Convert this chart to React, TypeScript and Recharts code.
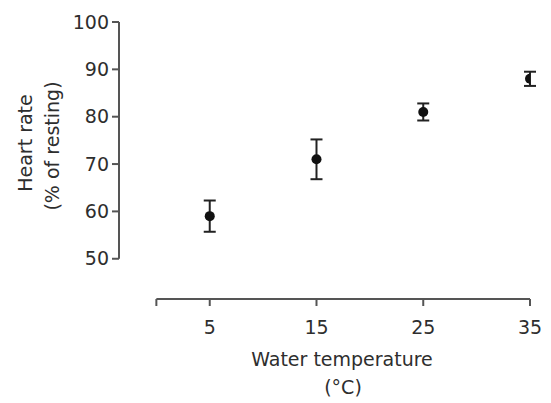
import React from 'react';
import { ScatterChart, Scatter, XAxis, YAxis, ErrorBar, ReferenceLine, Label } from 'recharts';

const temperatures = [5, 15, 25, 35];
const heartRate = [59, 71, 81, 88];
const heartRateErr = [3.3, 4.2, 1.8, 1.5];
const xTicks = [0, 5, 15, 25, 35];
const yTicks = [50, 60, 70, 80, 90, 100];
const xDomain: [number, number] = [-3.5, 35];
const yDomain: [number, number] = [41.5, 100];

const points = temperatures.map((t, i) => ({ x: t, y: heartRate[i], err: heartRateErr[i] }));

const FONT = 'DejaVu Sans';
const TEXT = '#2e2e2e';
const AXIS = '#555';

const tickStyle = { fontSize: 19, fill: TEXT, fontFamily: FONT };

const YTitle = () => (
  <g fontFamily={FONT} fontSize={19} fill={TEXT}>
    <text x={25} y={143} transform="rotate(-90 25 143)" textAnchor="middle" dominantBaseline="central">Heart rate</text>
    <text x={52} y={146} transform="rotate(-90 52 146)" textAnchor="middle" dominantBaseline="central">(% of resting)</text>
  </g>
);

const XTitle = () => (
  <g fontFamily={FONT} fontSize={19} fill={TEXT}>
    <text x={342} y={366} textAnchor="middle">Water temperature</text>
    <text x={343} y={394} textAnchor="middle">(°C)</text>
  </g>
);

export default function App() {
  return (
    <div style={{ position: 'absolute', left: 0, top: 0, background: '#fff' }}>
      <ScatterChart width={551} height={403} margin={{ top: 22, right: 21, bottom: 0, left: 0 }}>
        <XAxis
          type="number"
          dataKey="x"
          domain={xDomain}
          ticks={xTicks}
          allowDataOverflow
          axisLine={false}
          tickLine={{ stroke: AXIS, strokeWidth: 2 }}
          tickSize={7}
          tickMargin={15}
          tick={tickStyle}
          tickFormatter={(v: number) => (v === 0 ? '' : String(v))}
          height={104}
        >
          <Label content={() => <XTitle />} />
        </XAxis>
        <YAxis
          type="number"
          dataKey="y"
          domain={yDomain}
          ticks={yTicks}
          allowDataOverflow
          axisLine={false}
          tickLine={{ stroke: AXIS, strokeWidth: 2 }}
          tickSize={7}
          tickMargin={3}
          tick={tickStyle}
          width={119}
        >
          <Label content={() => <YTitle />} />
        </YAxis>
        <ReferenceLine
          segment={[{ x: xTicks[0], y: yDomain[0] }, { x: xTicks[xTicks.length - 1], y: yDomain[0] }]}
          stroke={AXIS}
          strokeWidth={2}
          ifOverflow="visible"
        />
        <ReferenceLine
          segment={[{ x: xDomain[0], y: yTicks[0] }, { x: xDomain[0], y: yTicks[yTicks.length - 1] }]}
          stroke={AXIS}
          strokeWidth={2}
          ifOverflow="visible"
        />
        <Scatter
          data={points}
          fill="#111"
          isAnimationActive={false}
          shape={(p: any) => <circle cx={p.cx} cy={p.cy} r={5} fill="#111" />}
        >
          <ErrorBar dataKey="err" direction="y" width={6} stroke="#222" strokeWidth={2} />
        </Scatter>
      </ScatterChart>
    </div>
  );
}
